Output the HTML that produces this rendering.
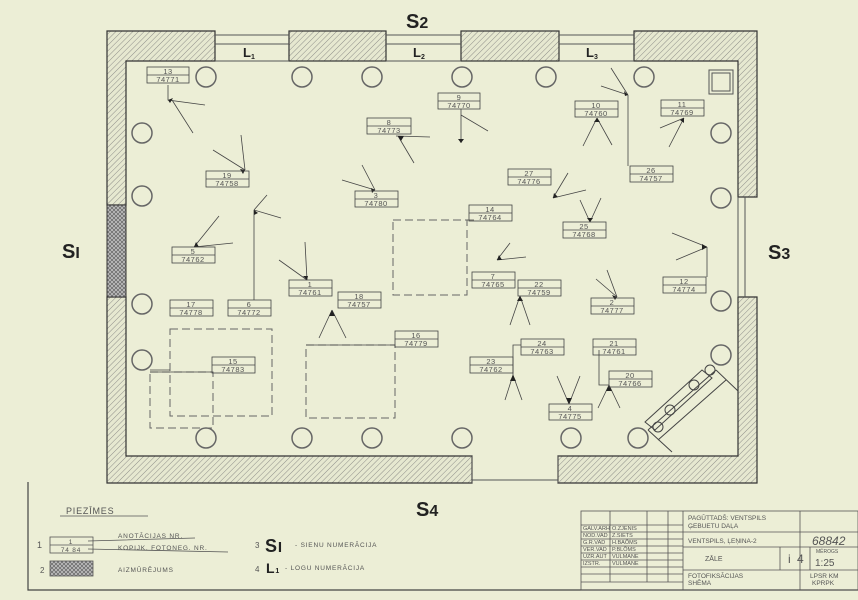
<!DOCTYPE html>
<html><head><meta charset="utf-8"><style>
html,body{margin:0;padding:0;background:#eceed6;}
svg{display:block;font-family:"Liberation Sans",sans-serif;}
.lb text{font-size:7.5px;fill:#555;text-anchor:middle;letter-spacing:0.5px}
</style></head><body>
<svg width="858" height="600" viewBox="0 0 858 600" xmlns="http://www.w3.org/2000/svg">
<defs>
<pattern id="h" width="4" height="4" patternUnits="userSpaceOnUse" patternTransform="rotate(45)">
<rect width="4" height="4" fill="#e6e8d0"/><line x1="0" y1="0" x2="0" y2="4" stroke="#777" stroke-width="0.8"/></pattern>
<pattern id="x" width="4" height="4" patternUnits="userSpaceOnUse">
<rect width="4" height="4" fill="#bbb"/><path d="M0 0L4 4M4 0L0 4" stroke="#555" stroke-width="0.6"/></pattern>
</defs>
<rect width="858" height="600" fill="#eceed6"/>
<g stroke="#333" stroke-width="1.2" fill="url(#h)">
<!-- top walls -->
<path d="M107 31H215V61H126V205H107Z"/>
<rect x="289" y="31" width="97" height="30"/>
<rect x="461" y="31" width="98" height="30"/>
<path d="M634 31H757V197H738V61H634Z"/>
<path d="M107 297H126V456H472V483H107Z"/>
<path d="M738 297H757V483H558V456H738Z"/>
</g>
<rect x="107" y="205" width="19" height="92" fill="url(#x)" stroke="#333"/>
<g stroke="#555" stroke-width="1" fill="none">
<path d="M215 35H289M215 44H289M215 61H289M386 35H461M386 44H461M386 61H461M559 35H634M559 44H634M559 61H634"/>
<path d="M738 197V297M745 197V297"/>
<path d="M472 456V483M558 456V483M472 480H558"/>
<rect x="709" y="70" width="24" height="24"/><rect x="712" y="73" width="18" height="18"/>
</g>
<g font-weight="bold" fill="#222">
<text x="243" y="57" font-size="13">L<tspan font-size="7" dy="2">1</tspan></text>
<text x="413" y="57" font-size="13">L<tspan font-size="7" dy="2">2</tspan></text>
<text x="586" y="57" font-size="13">L<tspan font-size="7" dy="2">3</tspan></text>
<text x="406" y="28" font-size="20">S<tspan font-size="16">2</tspan></text>
<text x="416" y="516" font-size="20">S<tspan font-size="16">4</tspan></text>
<text x="62" y="258" font-size="20">S<tspan font-size="16">I</tspan></text>
<text x="768" y="259" font-size="20">S<tspan font-size="16">3</tspan></text>
</g>
<!-- columns -->
<g stroke="#666" stroke-width="1.5" fill="none">
<circle cx="206" cy="77" r="10"/><circle cx="302" cy="77" r="10"/><circle cx="372" cy="77" r="10"/><circle cx="462" cy="77" r="10"/><circle cx="546" cy="77" r="10"/><circle cx="644" cy="77" r="10"/>
<circle cx="142" cy="133" r="10"/><circle cx="142" cy="196" r="10"/><circle cx="142" cy="304" r="10"/><circle cx="142" cy="360" r="10"/>
<circle cx="721" cy="133" r="10"/><circle cx="721" cy="198" r="10"/><circle cx="721" cy="301" r="10"/><circle cx="721" cy="355" r="10"/>
<circle cx="206" cy="438" r="10"/><circle cx="302" cy="438" r="10"/><circle cx="372" cy="438" r="10"/><circle cx="462" cy="438" r="10"/><circle cx="571" cy="438" r="10"/><circle cx="638" cy="438" r="10"/>
</g>
<!-- stair -->
<g stroke="#444" stroke-width="1" fill="none">
<path d="M648 430L716 370M658 440L726 380M716 370L738 391M648 430L672 452"/>
<path d="M645 422L702 370L712 378L655 430Z"/>
<circle cx="658" cy="427" r="5"/><circle cx="670" cy="410" r="5"/><circle cx="694" cy="385" r="5"/><circle cx="710" cy="370" r="5"/>
</g>
<!-- dashed -->
<g stroke="#666" stroke-width="1" fill="none" stroke-dasharray="8 4">
<rect x="393" y="220" width="74" height="75"/><rect x="170" y="329" width="102" height="87"/>
<rect x="150" y="372" width="63" height="56"/><rect x="306" y="345" width="89" height="73"/>
</g>
<!-- leader & camera lines -->
<g stroke="#444" stroke-width="0.8" fill="none">
<path d="M168 85V100L205 105M172 100L193 133"/>
<path d="M461 109V143M461 115L488 131"/>
<path d="M398 136L414 163M396 136L430 137"/>
<path d="M597 118L583 146M597 118L612 145"/>
<path d="M684 118L660 128M684 118L669 147"/>
<path d="M245 170L213 150M245 170L241 135"/>
<path d="M375 190L342 180M375 190L362 165"/>
<path d="M553 198L568 173M553 198L586 190"/>
<path d="M628 95V166M628 95L611 68M628 95L601 86"/>
<path d="M474 220H467M497 260L510 243M497 260L526 257"/>
<path d="M590 222L580 200M590 222L601 198"/>
<path d="M194 247L219 216M194 247L233 243"/>
<path d="M254 210V300M254 210L281 218M254 210L267 195"/>
<path d="M307 280L279 260M307 280L305 242"/>
<path d="M707 247V277M707 247L672 233M707 247L676 260"/>
<path d="M617 297L596 279M617 297L607 270"/>
<path d="M520 296L510 325M520 296L530 325"/>
<path d="M332 310L319 338M332 310L346 338"/>
<path d="M513 375L505 400M513 375L522 400M521 345H513V375"/>
<path d="M599 350V385H609M609 385L598 408M609 385L620 408"/>
<path d="M569 404L557 376M569 404L580 376"/>
<path d="M170 370H150M212 372H150"/>
<path d="M395 345H306"/>
</g>
<g fill="#222">
<path d="M168 100l5-2-3 5z"/><path d="M461 143l-3-4h6z"/><path d="M398 136l3 5 3-5z"/>
<path d="M597 118l-3 4h6z"/><path d="M684 118l-4 2 4 3z"/><path d="M245 170l-5-1 3 5z"/>
<path d="M375 190l-4-2 1 5z"/><path d="M553 198l1-5 4 4z"/><path d="M628 95l-4-4 1 5z"/>
<path d="M497 260l2-5 3 5z"/><path d="M590 222l-3-4h6z"/><path d="M194 247l2-5 3 5z"/>
<path d="M254 210l4 3-4 2z"/><path d="M307 280l-4-4 5 0z"/><path d="M707 247l-5-3 0 6z"/>
<path d="M617 297l-5-2 3 5z"/><path d="M520 296l-3 5h6z"/><path d="M332 310l-3 6h6z"/>
<path d="M513 375l-3 6h6z"/><path d="M609 385l-3 6h6z"/><path d="M569 404l-3-6h6z"/>
</g>
<!-- labels -->
<g class="lb" stroke="#444" stroke-width="0.8">
<g transform="translate(147,67)"><rect width="42" height="16" fill="none"/><line x1="0" y1="8" x2="42" y2="8"/><text x="21" y="7" stroke="none">13</text><text x="21" y="15" stroke="none">74771</text></g>
<g transform="translate(438,93)"><rect width="42" height="16" fill="none"/><line x1="0" y1="8" x2="42" y2="8"/><text x="21" y="7" stroke="none">9</text><text x="21" y="15" stroke="none">74770</text></g>
<g transform="translate(367,118)"><rect width="44" height="16" fill="none"/><line x1="0" y1="8" x2="44" y2="8"/><text x="22" y="7" stroke="none">8</text><text x="22" y="15" stroke="none">74773</text></g>
<g transform="translate(575,101)"><rect width="43" height="16" fill="none"/><line x1="0" y1="8" x2="43" y2="8"/><text x="21" y="7" stroke="none">10</text><text x="21" y="15" stroke="none">74760</text></g>
<g transform="translate(661,100)"><rect width="43" height="16" fill="none"/><line x1="0" y1="8" x2="43" y2="8"/><text x="21" y="7" stroke="none">11</text><text x="21" y="15" stroke="none">74769</text></g>
<g transform="translate(206,171)"><rect width="43" height="16" fill="none"/><line x1="0" y1="8" x2="43" y2="8"/><text x="21" y="7" stroke="none">19</text><text x="21" y="15" stroke="none">74758</text></g>
<g transform="translate(355,191)"><rect width="43" height="16" fill="none"/><line x1="0" y1="8" x2="43" y2="8"/><text x="21" y="7" stroke="none">3</text><text x="21" y="15" stroke="none">74780</text></g>
<g transform="translate(508,169)"><rect width="43" height="16" fill="none"/><line x1="0" y1="8" x2="43" y2="8"/><text x="21" y="7" stroke="none">27</text><text x="21" y="15" stroke="none">74776</text></g>
<g transform="translate(630,166)"><rect width="43" height="16" fill="none"/><line x1="0" y1="8" x2="43" y2="8"/><text x="21" y="7" stroke="none">26</text><text x="21" y="15" stroke="none">74757</text></g>
<g transform="translate(469,205)"><rect width="43" height="16" fill="none"/><line x1="0" y1="8" x2="43" y2="8"/><text x="21" y="7" stroke="none">14</text><text x="21" y="15" stroke="none">74764</text></g>
<g transform="translate(563,222)"><rect width="43" height="16" fill="none"/><line x1="0" y1="8" x2="43" y2="8"/><text x="21" y="7" stroke="none">25</text><text x="21" y="15" stroke="none">74768</text></g>
<g transform="translate(172,247)"><rect width="43" height="16" fill="none"/><line x1="0" y1="8" x2="43" y2="8"/><text x="21" y="7" stroke="none">5</text><text x="21" y="15" stroke="none">74762</text></g>
<g transform="translate(472,272)"><rect width="43" height="16" fill="none"/><line x1="0" y1="8" x2="43" y2="8"/><text x="21" y="7" stroke="none">7</text><text x="21" y="15" stroke="none">74765</text></g>
<g transform="translate(518,280)"><rect width="43" height="16" fill="none"/><line x1="0" y1="8" x2="43" y2="8"/><text x="21" y="7" stroke="none">22</text><text x="21" y="15" stroke="none">74759</text></g>
<g transform="translate(663,277)"><rect width="43" height="16" fill="none"/><line x1="0" y1="8" x2="43" y2="8"/><text x="21" y="7" stroke="none">12</text><text x="21" y="15" stroke="none">74774</text></g>
<g transform="translate(289,280)"><rect width="43" height="16" fill="none"/><line x1="0" y1="8" x2="43" y2="8"/><text x="21" y="7" stroke="none">1</text><text x="21" y="15" stroke="none">74761</text></g>
<g transform="translate(170,300)"><rect width="43" height="16" fill="none"/><line x1="0" y1="8" x2="43" y2="8"/><text x="21" y="7" stroke="none">17</text><text x="21" y="15" stroke="none">74778</text></g>
<g transform="translate(228,300)"><rect width="43" height="16" fill="none"/><line x1="0" y1="8" x2="43" y2="8"/><text x="21" y="7" stroke="none">6</text><text x="21" y="15" stroke="none">74772</text></g>
<g transform="translate(338,292)"><rect width="43" height="16" fill="none"/><line x1="0" y1="8" x2="43" y2="8"/><text x="21" y="7" stroke="none">18</text><text x="21" y="15" stroke="none">74757</text></g>
<g transform="translate(591,298)"><rect width="43" height="16" fill="none"/><line x1="0" y1="8" x2="43" y2="8"/><text x="21" y="7" stroke="none">2</text><text x="21" y="15" stroke="none">74777</text></g>
<g transform="translate(395,331)"><rect width="43" height="16" fill="none"/><line x1="0" y1="8" x2="43" y2="8"/><text x="21" y="7" stroke="none">16</text><text x="21" y="15" stroke="none">74779</text></g>
<g transform="translate(521,339)"><rect width="43" height="16" fill="none"/><line x1="0" y1="8" x2="43" y2="8"/><text x="21" y="7" stroke="none">24</text><text x="21" y="15" stroke="none">74763</text></g>
<g transform="translate(593,339)"><rect width="43" height="16" fill="none"/><line x1="0" y1="8" x2="43" y2="8"/><text x="21" y="7" stroke="none">21</text><text x="21" y="15" stroke="none">74761</text></g>
<g transform="translate(212,357)"><rect width="43" height="16" fill="none"/><line x1="0" y1="8" x2="43" y2="8"/><text x="21" y="7" stroke="none">15</text><text x="21" y="15" stroke="none">74783</text></g>
<g transform="translate(470,357)"><rect width="43" height="16" fill="none"/><line x1="0" y1="8" x2="43" y2="8"/><text x="21" y="7" stroke="none">23</text><text x="21" y="15" stroke="none">74762</text></g>
<g transform="translate(609,371)"><rect width="43" height="16" fill="none"/><line x1="0" y1="8" x2="43" y2="8"/><text x="21" y="7" stroke="none">20</text><text x="21" y="15" stroke="none">74766</text></g>
<g transform="translate(549,404)"><rect width="43" height="16" fill="none"/><line x1="0" y1="8" x2="43" y2="8"/><text x="21" y="7" stroke="none">4</text><text x="21" y="15" stroke="none">74775</text></g>
</g>
<!-- legend -->
<g fill="#555" font-size="6.5" letter-spacing="0.8">
<text x="66" y="514" font-size="9">PIEZĪMES</text>
<line x1="60" y1="516" x2="148" y2="516" stroke="#555" stroke-width="0.8"/>
<text x="37" y="548" font-size="9">1</text>
<g stroke="#555" stroke-width="0.8" fill="none"><rect x="50" y="537" width="43" height="16"/><line x1="50" y1="545" x2="93" y2="545"/><path d="M88 541L195 538M88 549L228 552"/></g>
<text x="71" y="544" text-anchor="middle">1</text><text x="71" y="552" text-anchor="middle">74 84</text>
<text x="118" y="538">ANOTĀCIJAS NR.</text><text x="118" y="550">KOPIJK. FOTONEG. NR.</text>
<text x="40" y="573" font-size="8">2</text>
<rect x="50" y="561" width="43" height="15" fill="url(#x)" stroke="#555" stroke-width="0.8"/>
<text x="118" y="572">AIZMŪRĒJUMS</text>
<text x="255" y="548" font-size="8">3</text>
<text x="265" y="552" font-size="18" font-weight="bold" fill="#222">S<tspan font-size="15">I</tspan></text>
<text x="295" y="547">- SIENU NUMERĀCIJA</text>
<text x="255" y="572" font-size="8">4</text>
<text x="266" y="573" font-size="14" font-weight="bold" fill="#222">L<tspan font-size="7">1</tspan></text>
<text x="285" y="570">- LOGU NUMERĀCIJA</text>
</g>
<!-- frame -->
<g stroke="#444" stroke-width="1.2" fill="none">
<path d="M28 482V590H858"/>
</g>
<!-- title block -->
<g stroke="#555" stroke-width="0.8" fill="none">
<rect x="581" y="511" width="277" height="79"/>
<path d="M581 525H683M581 532H683M581 539H683M581 546H683M581 553H683M581 560H683M581 567H683M581 574H683M581 582H683"/>
<path d="M610 511V582M647 511V582M668 511V582M683 511V590M800 511V590"/>
<path d="M683 532H858M683 547H858M683 570H858M780 547V570M810 547V570"/>
</g>
<g fill="#555" font-size="5.5">
<text x="583" y="530">GALV.ARH</text><text x="612" y="530">O.ZJENIS</text>
<text x="583" y="537">NOD.VAD</text><text x="612" y="537">Z.SIETS</text>
<text x="583" y="544">G.R.VAD</text><text x="612" y="544">H.BAÕMS</text>
<text x="583" y="551">VER.VAD</text><text x="612" y="551">P.BLÕMS</text>
<text x="583" y="558">UZR.AUT</text><text x="612" y="558">VULMANE</text>
<text x="583" y="565">IZSTR.</text><text x="612" y="565">VULMANE</text>
<text x="688" y="520" font-size="6.5">PAGŪTTADŠ: VENTSPILS</text>
<text x="688" y="528" font-size="6.5">ĢEBUETU DAĻA</text>
<text x="688" y="543" font-size="6.5">VENTSPILS, ĻEŅINA-2</text>
<text x="705" y="561" font-size="7">ZĀLE</text>
<text x="688" y="578" font-size="6.5">FOTOFIKSĀCIJAS</text>
<text x="688" y="585" font-size="6.5">SHĒMA</text>
<text x="788" y="563" font-size="12">i</text>
<text x="797" y="563" font-size="12">4</text>
<text x="816" y="553" font-size="5">MĒROGS</text>
<text x="815" y="566" font-size="10">1:25</text>
<text x="810" y="578" font-size="6.5">LPSR KM</text>
<text x="812" y="585" font-size="6.5">KPRPK</text>
<text x="812" y="545" font-size="12" font-style="italic">68842</text>
</g>
</svg>
</body></html>
